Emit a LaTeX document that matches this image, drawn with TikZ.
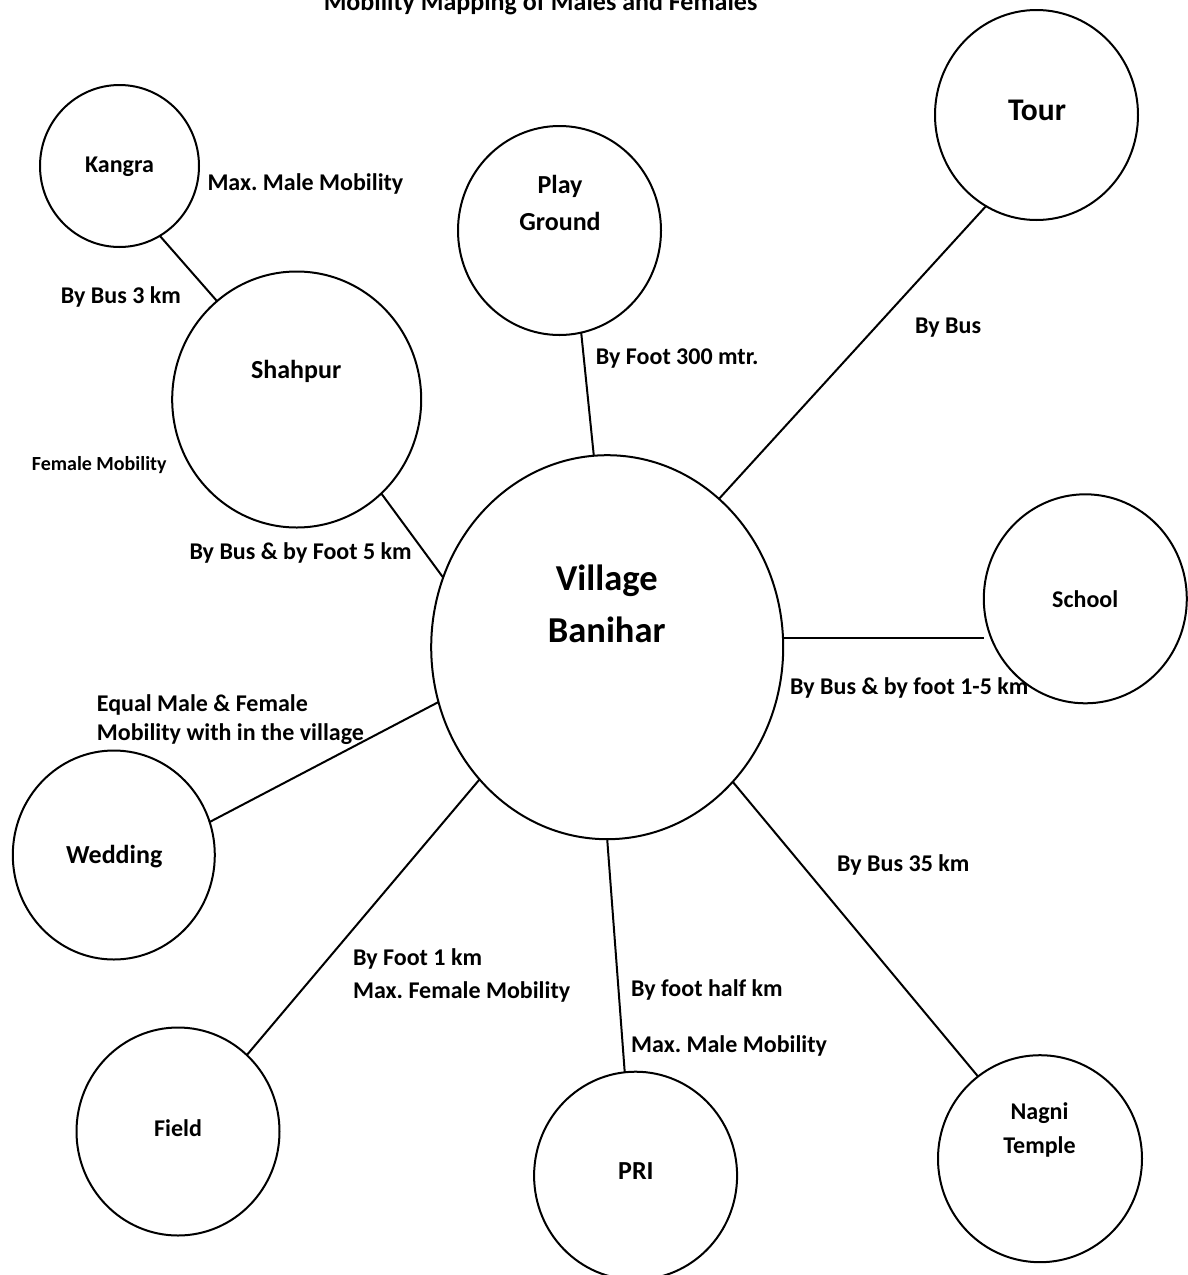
\documentclass[tikz,border=0pt]{standalone}
\usepackage{fontspec}
\setmainfont{Carlito}
\usetikzlibrary{shapes.geometric}
\frenchspacing
\begin{document}
\begin{tikzpicture}[x=1pt,y=-1pt,
  place/.style 2 args={draw, ellipse, line width=2pt, inner sep=0pt, outer sep=0pt,
    minimum width=#1, minimum height=#2},
  link/.style={line width=2pt},
  placename/.style={font=\bfseries\fontsize{#1}{#1}\selectfont, inner sep=0pt, anchor=base, align=center},
  lbl/.style={font=\bfseries\fontsize{24}{28.3}\selectfont, inner sep=0pt, anchor=base west, align=left}]

% page
\fill[white] (0,0) rectangle (1187,1275);
\useasboundingbox (0,0) rectangle (1187,1275);

% title (multi-line nodes below are anchored at the baseline of their last line)
\node[font=\bfseries\fontsize{26}{30}\selectfont, inner sep=0pt, anchor=base] (title)
  at (540.5,10) {Mobility Mapping of Males and Females};

% places
\node[place={159pt}{162pt}] (kangra)  at (119.5,166) {};
\node[place={249pt}{256pt}] (shahpur) at (296.7,399.5) {};
\node[place={203pt}{209pt}] (play)    at (559.5,230.5) {};
\node[place={203pt}{210pt}] (tour)    at (1036.5,115) {};
\node[place={352pt}{384pt}] (village) at (607.2,647.2) {};
\node[place={203pt}{209pt}] (school)  at (1085.3,598.8) {};
\node[place={202pt}{209pt}] (wedding) at (113.8,855) {};
\node[place={203pt}{208pt}] (field)   at (178,1131.5) {};
\node[place={203pt}{208pt}] (pri)     at (635.6,1175.7) {};
\node[place={204pt}{207pt}] (nagni)   at (1040,1158.7) {};

% place names
\node[placename=24] (kangraT)  at (119.5,172.7) {Kangra};
\node[placename=26] (shahpurT) at (296.2,378.3) {Shahpur};
\node[placename=26] (playT)    at (560,230) {Play\\[10.7pt]Ground};
\node[placename=31.5] (tourT)  at (1037,120) {Tour};
\node[placename=36.5] (villageT) at (606.7,642) {Village\\[14.8pt]Banihar};
\node[placename=24] (schoolT)  at (1085.2,607.7) {School};
\node[placename=26] (weddingT) at (114.2,863.3) {Wedding};
\node[placename=24] (fieldT)   at (178,1136.7) {Field};
\node[placename=26] (priT)     at (635.9,1179.3) {PRI};
\node[placename=24] (nagniT)   at (1039.5,1153.3) {Nagni\\[10pt]Temple};

% connectors
\draw[link] (kangra.-60)  -- (shahpur.129);
\draw[link] (shahpur.-48) -- (village.157);
\draw[link] (play.-78)    -- (village.94);
\draw[link] (tour.-119)   -- (village.53);
\draw[link] (village.3)   -- (village.3 -| school.west);
\draw[link] (village.198) -- (wedding.19);
\draw[link] (village.-134) -- (field.48);
\draw[link] (village.-90) -- (pri.96);
\draw[link] (village.-47) -- (nagni.127);

% route labels
\node[lbl] (l1) at (207.3,190) {Max. Male Mobility};
\node[lbl] (l2) at (60.7,303.3) {By Bus 3 km};
\node[lbl, font=\bfseries\fontsize{20}{24}\selectfont] (l3) at (31.7,470.7) {Female Mobility};
\node[lbl] (l4) at (189.3,559) {By Bus \& by Foot 5 km};
\node[lbl] (l5) at (595.7,364) {By Foot 300 mtr.};
\node[lbl] (l6) at (915,333.3) {By Bus};
\node[lbl] (l7) at (790,694.3) {By Bus \& by foot 1-5 km};
\node[lbl] (l8) at (96.7,740) {Equal Male \& Female\\Mobility with in the village};
\node[lbl, font=\bfseries\fontsize{24}{33.3}\selectfont] (l9) at (352.9,998.3) {By Foot 1 km\\Max. Female Mobility};
\node[lbl] (l10) at (837,871.7) {By Bus 35 km};
\node[lbl] (l11) at (631,996.7) {By foot half km};
\node[lbl] (l12) at (631,1052.7) {Max. Male Mobility};
\end{tikzpicture}
\end{document}
